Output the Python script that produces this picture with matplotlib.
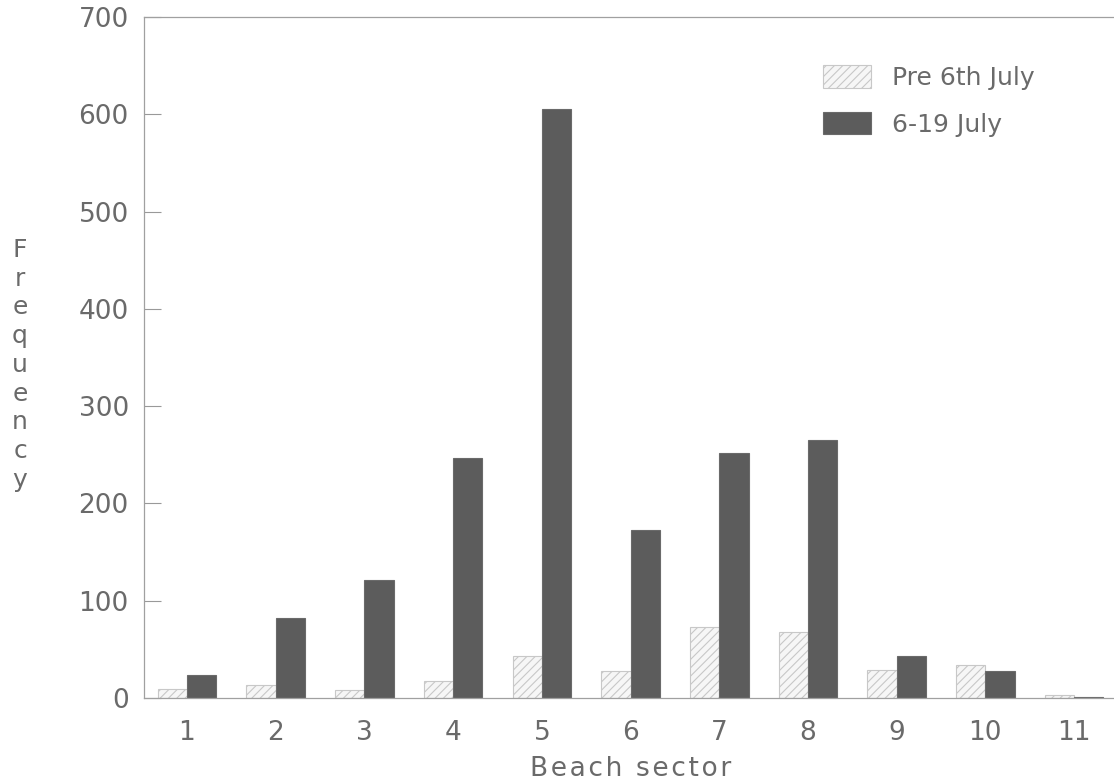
import numpy as np
import matplotlib.pyplot as plt
import matplotlib as mpl

sectors = [1, 2, 3, 4, 5, 6, 7, 8, 9, 10, 11]
pre_6th_july = [9, 13, 8, 17, 43, 28, 73, 68, 29, 34, 3]
july_6_19 = [24, 82, 121, 247, 605, 173, 252, 265, 43, 28, 1]
y_ticks = [0, 100, 200, 300, 400, 500, 600, 700]

plt.rcParams['font.family'] = ['DejaVu Sans']
mpl.rcParams['hatch.color'] = '#8c8c8c'
mpl.rcParams['hatch.linewidth'] = 0.8
text_col = '#6a6a6a'

fig = plt.figure(figsize=(11.14, 7.83), dpi=100)
ax = fig.add_axes([0.1293, 0.1086, 0.8707, 0.8697])

x = np.array(sectors)
w = 0.33
ax.bar(x - w / 2, pre_6th_july, width=w, color='#f6f6f6', edgecolor='#c8c8c8',
       hatch='////', linewidth=0.8, label='Pre 6th July')
ax.bar(x + w / 2, july_6_19, width=w, color='#5c5c5c', edgecolor='#6a6a6a',
       linewidth=0.8, label='6-19 July')

ax.set_xlim(0.516, 11.45)
ax.set_ylim(0, 700)
ax.set_yticks(y_ticks)
ax.set_xticks(sectors)
ax.tick_params(axis='y', direction='in', length=12, width=0.8, color='#999999',
               labelsize=19, labelcolor=text_col, pad=11)
ax.tick_params(axis='x', length=0, labelsize=19, labelcolor=text_col, pad=16)

for s in ['left', 'bottom', 'top']:
    ax.spines[s].set_color('#a0a0a0')
    ax.spines[s].set_linewidth(0.9)
ax.spines['right'].set_visible(False)

# letter-spaced axis titles like the scanned original
fig.text(0.5665, 1 - 769 / 783, '\u200a'.join('Beach sector'), ha='center',
         va='center', fontsize=19, color=text_col)
fig.text(0.018, 0.534, '\n'.join('Frequency'), ha='center', va='center',
         fontsize=18, color=text_col, linespacing=1.25)

leg = ax.legend(loc='upper left', bbox_to_anchor=(0.677, 0.962), frameon=False,
                fontsize=18, handlelength=1.92, handleheight=1.0,
                handletextpad=0.84, labelspacing=0.88)
for t in leg.get_texts():
    t.set_color(text_col)

fig.savefig('out.png', dpi=100)
